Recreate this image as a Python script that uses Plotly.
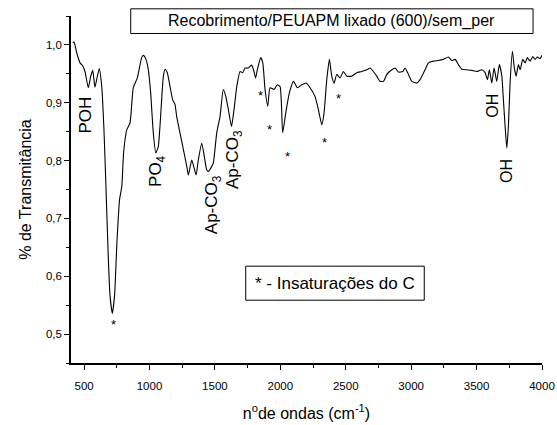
import plotly.graph_objects as go

# ---- data ----
wavenumber = [413, 423, 444, 469, 489, 507, 532, 551, 566, 583, 599, 616, 635, 652, 668, 683, 698, 716,
              733, 752, 771, 788, 801, 813, 826, 851, 876, 907, 940, 953, 973, 991, 1009, 1029, 1048,
              1067, 1080, 1106, 1119, 1136, 1157, 1177, 1195, 1208, 1233, 1259, 1285, 1297, 1323,
              1356, 1373, 1399, 1417, 1437, 1450, 1476, 1488, 1514, 1539, 1564, 1583, 1603, 1627,
              1646, 1667, 1692, 1713, 1730, 1755, 1780, 1795, 1811, 1824, 1850, 1866, 1883, 1904,
              1921, 1952, 1977, 1998, 2018, 2041, 2069, 2100, 2130, 2164, 2197, 2227, 2265, 2291,
              2317, 2334, 2355, 2375, 2393, 2411, 2431, 2457, 2482, 2508, 2546, 2584, 2622, 2661,
              2686, 2711, 2737, 2762, 2788, 2814, 2852, 2877, 2902, 2936, 2953, 2979, 3005, 3043,
              3068, 3106, 3132, 3170, 3208, 3246, 3284, 3310, 3336, 3361, 3387, 3425, 3463, 3502,
              3540, 3565, 3583, 3598, 3616, 3634, 3654, 3674, 3693, 3705, 3718, 3731, 3743, 3756,
              3774, 3787, 3802, 3820, 3833, 3853, 3871, 3888, 3909, 3930, 3947, 3965, 3985, 4000]
transmittance = [1.004, 1.005, 0.986, 0.969, 0.964, 0.954, 0.926, 0.946, 0.956, 0.927, 0.943, 0.959,
                 0.928, 0.853, 0.749, 0.645, 0.567, 0.536, 0.567, 0.663, 0.732, 0.755, 0.810, 0.836,
                 0.853, 0.865, 0.926, 0.943, 0.978, 0.982, 0.975, 0.957, 0.917, 0.848, 0.813, 0.824,
                 0.859, 0.946, 0.958, 0.952, 0.928, 0.905, 0.897, 0.876, 0.848, 0.819, 0.790, 0.775,
                 0.801, 0.775, 0.801, 0.830, 0.810, 0.784, 0.781, 0.790, 0.796, 0.848, 0.876, 0.923,
                 0.911, 0.888, 0.859, 0.888, 0.928, 0.954, 0.952, 0.960, 0.960, 0.965, 0.957, 0.943,
                 0.957, 0.978, 0.969, 0.923, 0.894, 0.926, 0.923, 0.931, 0.928, 0.848, 0.882, 0.917,
                 0.937, 0.926, 0.931, 0.934, 0.926, 0.911, 0.888, 0.862, 0.882, 0.940, 0.975, 0.946,
                 0.934, 0.949, 0.943, 0.954, 0.946, 0.946, 0.952, 0.954, 0.957, 0.960, 0.954, 0.946,
                 0.937, 0.937, 0.949, 0.957, 0.960, 0.953, 0.954, 0.960, 0.949, 0.937, 0.934, 0.940,
                 0.957, 0.969, 0.972, 0.973, 0.975, 0.979, 0.973, 0.975, 0.966, 0.958, 0.957, 0.956,
                 0.954, 0.957, 0.952, 0.940, 0.957, 0.934, 0.960, 0.937, 0.966, 0.946, 0.905, 0.859,
                 0.822, 0.859, 0.934, 0.989, 0.963, 0.946, 0.966, 0.957, 0.975, 0.969, 0.978, 0.972,
                 0.980, 0.975, 0.979, 0.976, 0.982]

# band labels (rotated) : text, wavenumber, transmittance
band_labels = ["POH", "PO<sub>4</sub>", "Ap-CO<sub>3</sub>", "Ap-CO<sub>3</sub>", "OH", "OH"]
band_x = [507, 1057, 1486, 1646, 3619, 3733]
band_y = [0.878, 0.782, 0.723, 0.801, 0.895, 0.782]
band_size = [17, 17, 17, 17, 16, 16]

# asterisks marking C unsaturations
star_x = [723, 1850, 1914, 2054, 2334, 2444]
star_y = [0.521, 0.918, 0.859, 0.813, 0.836, 0.912]

x_tickvals = [500, 1000, 1500, 2000, 2500, 3000, 3500, 4000]
x_ticktext = ["500", "1000", "1500", "2000", "2500", "3000", "3500", "4000"]
y_tickvals = [0.5, 0.6, 0.7, 0.8, 0.9, 1.0]
y_ticktext = ["0,5", "0,6", "0,7", "0,8", "0,9", "1,0"]

title_text = "Recobrimento/PEUAPM lixado (600)/sem_per"
note_text = "* - Insaturações do C"

FONT = "Arial, Liberation Sans, sans-serif"

fig = go.Figure()
fig.add_trace(go.Scatter(x=wavenumber, y=transmittance, mode="lines",
                         line=dict(color="black", width=1.1, shape="spline", smoothing=0.5),
                         hoverinfo="skip", showlegend=False))

annotations = []
for t, x, y, s in zip(band_labels, band_x, band_y, band_size):
    annotations.append(dict(x=x, y=y, xref="x", yref="y", text=t, showarrow=False,
                            textangle=-90, font=dict(family=FONT, size=s, color="black"),
                            xanchor="center", yanchor="middle"))
for x, y in zip(star_x, star_y):
    annotations.append(dict(x=x, y=y, xref="x", yref="y", text="*", showarrow=False,
                            font=dict(family=FONT, size=13, color="black"),
                            xanchor="center", yanchor="middle", yshift=-3))
annotations.append(dict(x=0.554, y=0.985, xref="paper", yref="paper", text=title_text,
                        showarrow=False, font=dict(family=FONT, size=16, color="black"),
                        xanchor="center", yanchor="middle"))
annotations.append(dict(x=0.5605, y=0.229, xref="paper", yref="paper", text=note_text,
                        showarrow=False, font=dict(family=FONT, size=17, color="black"),
                        xanchor="center", yanchor="middle"))

shapes = [
    dict(type="rect", xref="paper", yref="paper", x0=0.1268, x1=0.981, y0=0.9496, y1=1.0207,
         line=dict(color="black", width=1), fillcolor="rgba(0,0,0,0)"),
    dict(type="rect", xref="paper", yref="paper", x0=0.371, x1=0.750, y0=0.181, y1=0.279,
         line=dict(color="black", width=1), fillcolor="rgba(0,0,0,0)"),
]

fig.update_layout(
    width=557, height=425,
    margin=dict(l=71, r=15, t=16, b=62, autoexpand=False),
    paper_bgcolor="white", plot_bgcolor="white",
    font=dict(family=FONT, color="black"),
    annotations=annotations, shapes=shapes,
    xaxis=dict(range=[400, 4000], tickvals=x_tickvals, ticktext=x_ticktext,
               ticks="outside", ticklen=5, tickwidth=1, tickcolor="black",
               minor=dict(ticks="outside", ticklen=3, dtick=250, tick0=0, tickcolor="black"),
               showline=True, linecolor="black", linewidth=1.5, mirror=False,
               showgrid=False, zeroline=False, automargin=False, ticklabelstandoff=6,
               tickfont=dict(family=FONT, size=11.5, color="black"),
               title=dict(text="n<sup>o</sup>de ondas (cm<sup>-1</sup>)",
                          font=dict(family=FONT, size=16, color="black"), standoff=17)),
    yaxis=dict(range=[0.45, 1.05], tickvals=y_tickvals, ticktext=y_ticktext,
               ticks="outside", ticklen=5, tickwidth=1, tickcolor="black",
               minor=dict(ticks="outside", ticklen=3, dtick=0.05, tick0=0.45, tickcolor="black"),
               showline=True, linecolor="black", linewidth=1.5, mirror=False,
               showgrid=False, zeroline=False, automargin=False,
               tickfont=dict(family=FONT, size=11.5, color="black"),
               title=dict(text="% de Transmitância",
                          font=dict(family=FONT, size=16, color="black"), standoff=10)),
)

# remove the browser's default 8px body margin so the figure fills the window exactly
fig.write_html("out.html", config={"displayModeBar": False},
               post_script="document.body.style.margin='0';")
